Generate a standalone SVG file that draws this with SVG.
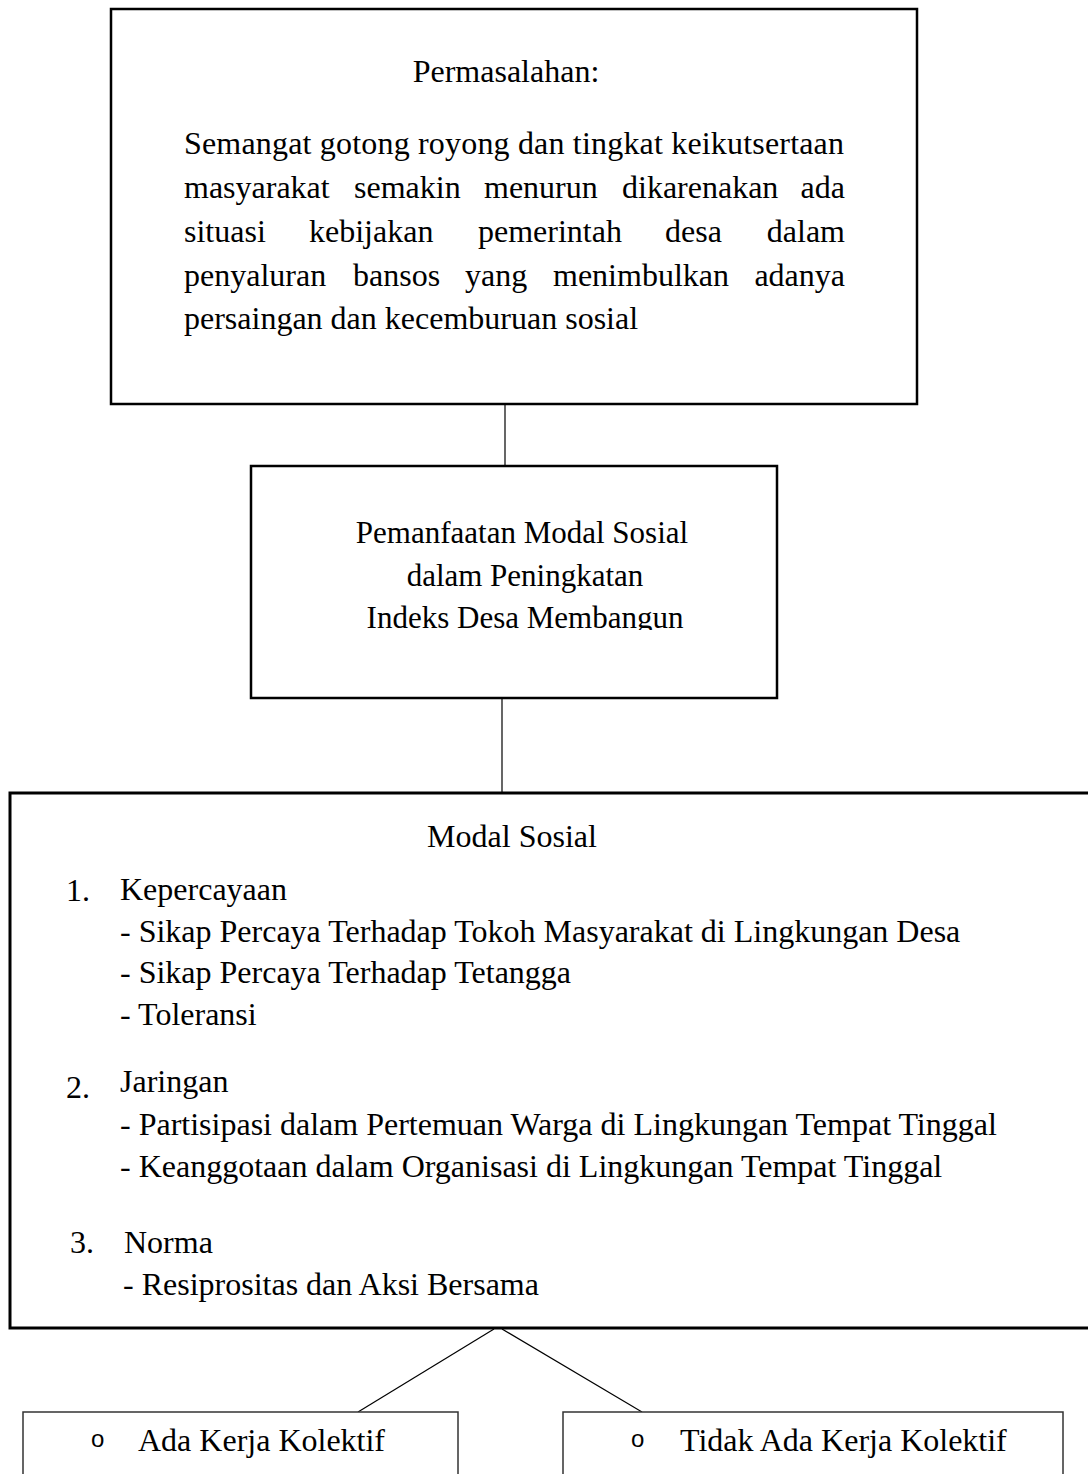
<svg xmlns="http://www.w3.org/2000/svg" width="1088" height="1474" viewBox="0 0 1088 1474">
<style>
text { font-family: "Liberation Serif", "Times New Roman", serif; font-size: 32px; fill: #000; }
.box { fill: #fff; stroke: #000; }
.thick { stroke-width: 2.5; }
.thin { stroke-width: 1.5; stroke: #333; }
.conn { stroke: #000; stroke-width: 1.2; fill: none; }
.mid { text-anchor: middle; }
.end { text-anchor: end; }
.bul { font-family: "Liberation Sans", Arial, sans-serif; font-size: 24px; font-weight: 300; }
</style>
<defs>
<clipPath id="clipMid"><rect x="250" y="466" width="527" height="164"/></clipPath>
</defs>
<rect width="1088" height="1474" fill="#fff"/>
<g id="connectors">
<line class="conn" x1="505" y1="404" x2="505" y2="466"/>
<line class="conn" x1="502" y1="698" x2="502" y2="793"/>
<line class="conn" x1="494" y1="1329" x2="358" y2="1412"/>
<line class="conn" x1="502" y1="1329" x2="642" y2="1412"/>
</g>
<g id="permasalahan">
<rect class="box thick" x="111" y="9" width="806" height="395"/>
<text class="mid" x="506" y="82">Permasalahan:</text>
<text x="184" y="154" textLength="660" lengthAdjust="spacing">Semangat gotong royong dan tingkat keikutsertaan</text>
<text x="184" y="198">masyarakat</text>
<text x="354" y="198">semakin</text>
<text x="484" y="198">menurun</text>
<text x="622" y="198">dikarenakan</text>
<text class="end" x="845" y="198">ada</text>
<text x="184" y="242">situasi</text>
<text x="309" y="242">kebijakan</text>
<text x="478" y="242">pemerintah</text>
<text x="665" y="242">desa</text>
<text class="end" x="845" y="242">dalam</text>
<text x="184" y="286">penyaluran</text>
<text x="353" y="286">bansos</text>
<text x="465" y="286">yang</text>
<text x="553" y="286">menimbulkan</text>
<text class="end" x="845" y="286">adanya</text>
<text x="184" y="329">persaingan dan kecemburuan sosial</text>
</g>
<g id="pemanfaatan">
<rect class="box thick" x="251" y="466" width="526" height="232"/>
<g clip-path="url(#clipMid)">
<text class="mid" x="522" y="543" style="font-size:31px">Pemanfaatan Modal Sosial</text>
<text class="mid" x="525" y="586" style="font-size:31px">dalam Peningkatan</text>
<text class="mid" x="525" y="628" style="font-size:31px">Indeks Desa Membangun</text>
</g>
</g>
<g id="modal-sosial">
<rect class="box" style="stroke-width:3" x="10" y="793" width="1100" height="535"/>
<text class="mid" x="512" y="847">Modal Sosial</text>
<text x="66" y="901">1.</text>
<text x="120" y="900">Kepercayaan</text>
<text x="120" y="942">- Sikap Percaya Terhadap Tokoh Masyarakat di Lingkungan Desa</text>
<text x="120" y="983">- Sikap Percaya Terhadap Tetangga</text>
<text x="120" y="1025">- Toleransi</text>
<text x="66" y="1098">2.</text>
<text x="120" y="1092">Jaringan</text>
<text x="120" y="1135">- Partisipasi dalam Pertemuan Warga di Lingkungan Tempat Tinggal</text>
<text x="120" y="1177">- Keanggotaan dalam Organisasi di Lingkungan Tempat Tinggal</text>
<text x="70" y="1253">3.</text>
<text x="124" y="1253">Norma</text>
<text x="123" y="1295">- Resiprositas dan Aksi Bersama</text>
</g>
<g id="ada-kerja-kolektif">
<rect class="box thin" x="23" y="1412" width="435" height="80"/>
<text class="bul" x="91" y="1447">o</text>
<text x="138" y="1451">Ada Kerja Kolektif</text>
</g>
<g id="tidak-ada-kerja-kolektif">
<rect class="box thin" x="563" y="1412" width="500" height="80"/>
<text class="bul" x="631" y="1447">o</text>
<text x="680" y="1451">Tidak Ada Kerja Kolektif</text>
</g>
</svg>
